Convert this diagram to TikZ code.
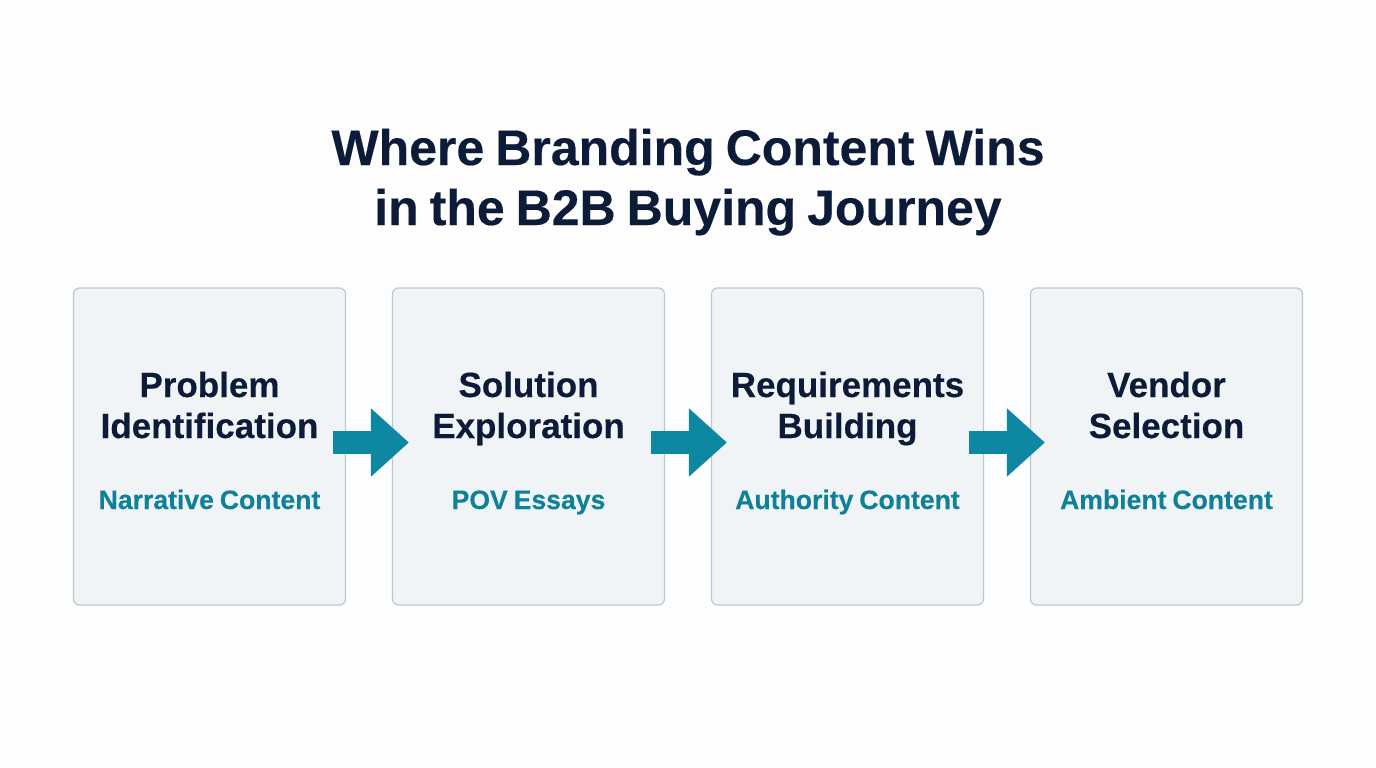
\documentclass[tikz,border=0pt]{standalone}
\usepackage{fontspec}
\setmainfont[BoldFeatures={FakeBold=0.3}]{Liberation Sans}
\usetikzlibrary{arrows.meta}
\definecolor{pagewhite}{HTML}{FDFDFE}
\definecolor{navy}{HTML}{0B1B38}
\definecolor{teal}{HTML}{0F8197}
\definecolor{arrowteal}{HTML}{0E87A2}
\definecolor{boxfill}{HTML}{F1F4F7}
\definecolor{boxline}{HTML}{BCC8CF}
\tikzset{
    stagebox/.style={shape=rectangle,draw=boxline,fill=boxfill,line width=1.2pt,rounded corners=6pt,minimum width=272pt,minimum height=317pt,inner sep=0pt},
    stagelabel/.style={anchor=base,align=center,text=navy,font=\fontsize{35}{41}\selectfont\bfseries,inner sep=0pt},
    contentlabel/.style={anchor=base,text=teal,font=\fontsize{26.6}{30}\selectfont\bfseries\spaceskip 5.9pt,inner sep=0pt},
    flowarrow/.style={draw=arrowteal,line width=23pt,-{Triangle[length=38pt,width=66pt]},shorten <=-13.5pt,shorten >=-17pt}
}
\begin{document}
\begin{tikzpicture}[x=1pt,y=-1pt]
        \path[fill=pagewhite,use as bounding box] (0,0) rectangle (1376,768);

        \node[anchor=base,align=center,text=navy,font=\fontsize{50}{60}\selectfont\bfseries\spaceskip 11pt,inner sep=0pt] (title) at (688,225) {Where Branding Content Wins\\in the B2B Buying Journey};

        % stages
        \node[stagebox] (A) at (209.5,446.5) {};
        \node[stagebox] (B) at (528.5,446.5) {};
        \node[stagebox] (C) at (847.5,446.5) {};
        \node[stagebox] (D) at (1166.5,446.5) {};

        \node[stagelabel] (Atext) at (209.5,438) {Problem\\Identification};
        \node[stagelabel] (Btext) at (528.5,438) {Solution\\Exploration};
        \node[stagelabel] (Ctext) at (847.5,438) {Requirements\\Building};
        \node[stagelabel] (Dtext) at (1166.5,438) {Vendor\\Selection};

        \node[contentlabel] (Acontent) at (209.5,509) {Narrative Content};
        \node[contentlabel] (Bcontent) at (528.5,509) {POV Essays};
        \node[contentlabel] (Ccontent) at (847.5,509) {Authority Content};
        \node[contentlabel] (Dcontent) at (1166.5,509) {Ambient Content};

        % arrows between the stages
        \draw[flowarrow] ([yshift=4pt]A.east) -- ([yshift=4pt]B.west);
        \draw[flowarrow] ([xshift=-1pt,yshift=4pt]B.east) -- ([xshift=-1pt,yshift=4pt]C.west);
        \draw[flowarrow] ([xshift=-2pt,yshift=4pt]C.east) -- ([xshift=-2pt,yshift=4pt]D.west);
\end{tikzpicture}
\end{document}
